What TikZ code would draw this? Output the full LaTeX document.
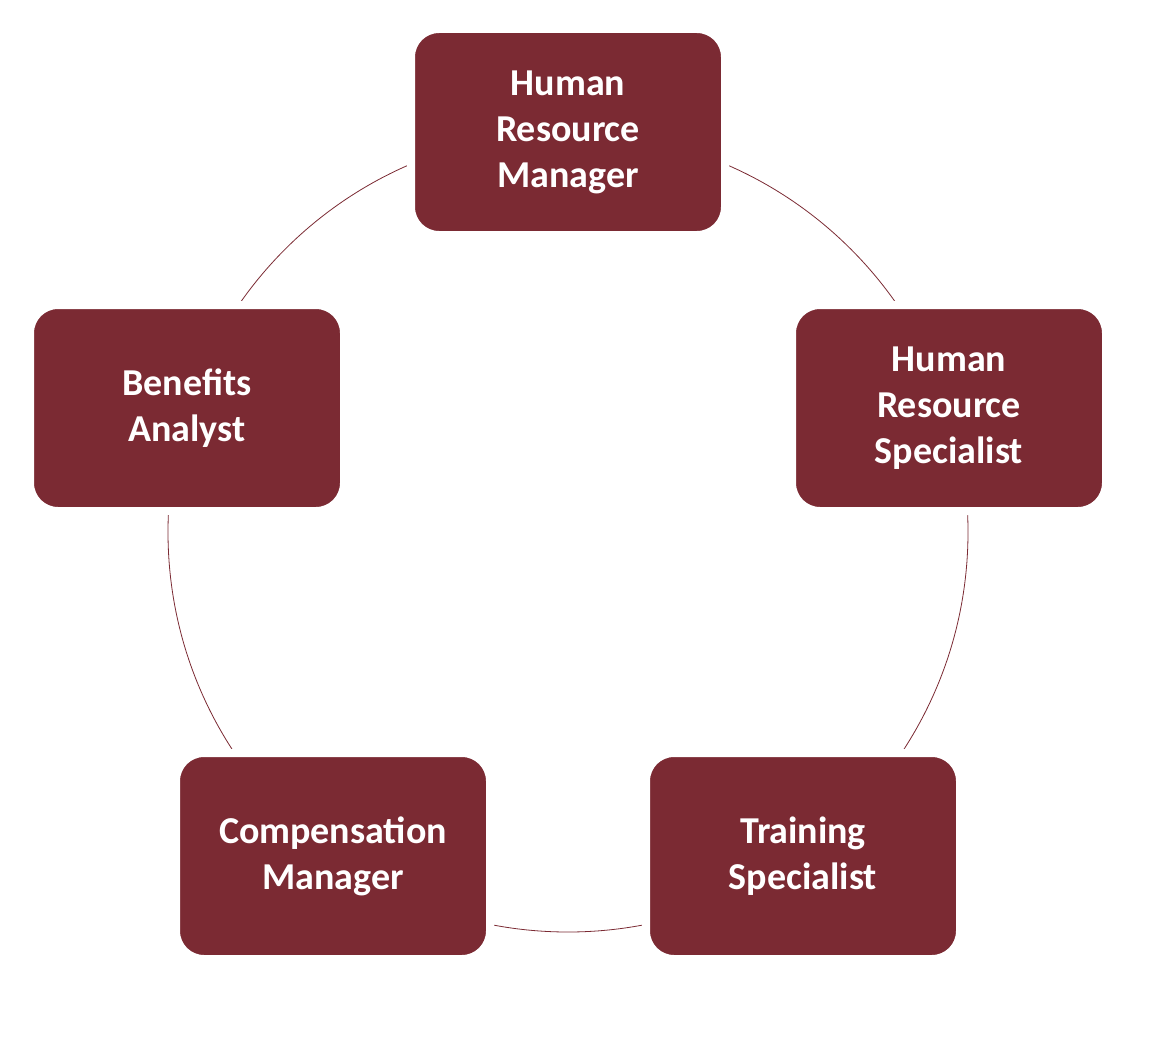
\documentclass[tikz,border=0pt]{standalone}
\usepackage{fontspec}
\setmainfont{Carlito}
\definecolor{boxc}{HTML}{7B2A33}
\begin{document}
\begin{tikzpicture}[x=1pt,y=-1pt,
  rolebox/.style={fill=boxc,draw=white,line width=8pt,rounded corners=28pt,minimum width=314pt,minimum height=206pt,
    text=white,font=\fontsize{38}{46}\selectfont\bfseries,align=center}]
\useasboundingbox (0,0) rectangle (1161,1041);
\coordinate (c) at (568,532);
\draw[boxc,line width=0.8pt] (c) circle[radius=400];
\node[rolebox] (hrm) at (568,132) {Human\\Resource\\Manager};
\node[rolebox] (hrs) at (949,408) {Human\\Resource\\Specialist};
\node[rolebox] (ts) at (803,856) {Training\\Specialist};
\node[rolebox] (cm) at (333,856) {Compensation\\Manager};
\node[rolebox] (ba) at (187,408) {Benefits\\Analyst};
\end{tikzpicture}
\end{document}
